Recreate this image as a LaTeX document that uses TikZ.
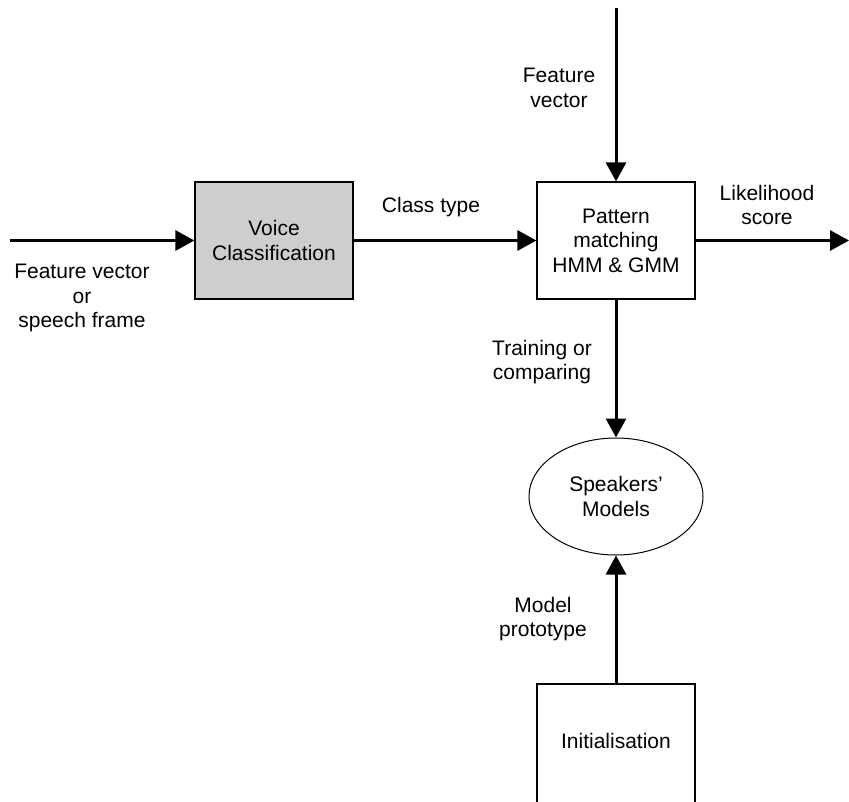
\documentclass[tikz,border=0pt]{standalone}
\usepackage{fontspec}
\setmainfont{Liberation Sans}
\usetikzlibrary{arrows.meta,shapes.geometric}
\definecolor{boxgray}{RGB}{206,206,206}
\begin{document}
\begin{tikzpicture}[x=1pt,y=-1pt,
  every node/.style={font=\fontsize{21}{24.5}\selectfont, inner sep=0pt},
  blockbox/.style={draw=black, line width=1.2pt, minimum width=158pt, minimum height=117pt, align=center},
  modelnode/.style={ellipse, draw=black, line width=1pt, minimum width=174pt, minimum height=117pt, align=center},
  flow/.style={line width=3pt, -{Triangle[length=19pt,width=20pt]}},
  tag/.style={align=center}]
  % canvas
  \clip (0,0) rectangle (849,801);
  \fill[white] (0,0) rectangle (849,801);

  % blocks
  \node[blockbox, fill=boxgray] (voice) at (274,240.5) {Voice\\Classification};
  \node[blockbox] (pm) at (616,240.5) {Pattern\\matching\\HMM \& GMM};
  \node[modelnode] (spk) at (616,496.5) {Speakers'\\Models};
  \node[blockbox, minimum height=136pt] (init) at (616,752) {};
  \node (inittext) at (616,741) {Initialisation};

  % free ends of the connectors
  \coordinate (src) at (10,240.5);
  \coordinate (feat) at (616,8);
  \coordinate (out) at (849,240.5);

  % connectors
  \draw[flow] (src) -- (voice.west);
  \draw[flow] (voice.east) -- (pm.west);
  \draw[flow] (feat) -- (pm.north);
  \draw[flow] (pm.east) -- (out);
  \draw[flow] (pm.south) -- (spk.north);
  \draw[flow] (init.north) -- (spk.south);

  % labels
  \node[tag] (lsrc) at (82,298) {Feature vector\\or\\speech frame};
  \node[tag] (lclass) at (431,207) {Class type};
  \node[tag] (lfeat) at (559,88) {Feature\\vector};
  \node[tag] (llike) at (767,205) {Likelihood\\score};
  \node[tag] (ltrain) at (542,362) {Training or\\comparing};
  \node[tag] (lproto) at (543,619) {Model\\prototype};
\end{tikzpicture}
\end{document}
